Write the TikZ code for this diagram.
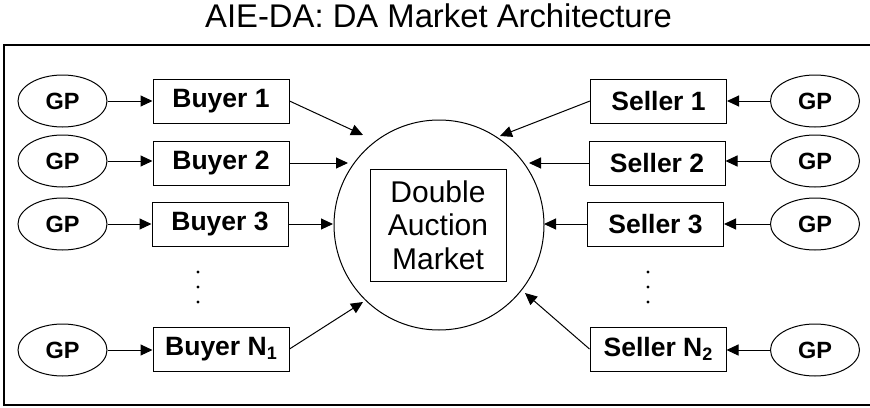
\documentclass[tikz,border=0pt]{standalone}
\usepackage{fontspec}
\setmainfont{Liberation Sans}
\usetikzlibrary{arrows.meta,shapes.geometric}
\begin{document}
\begin{tikzpicture}[x=1pt,y=-1pt,
  agent/.style={draw, line width=1pt, minimum width=136pt, minimum height=44pt,
    inner sep=0pt, font=\fontsize{26.5}{26.5}\bfseries\selectfont},
  gp/.style={draw, ellipse, line width=1pt, minimum width=89pt, minimum height=52pt,
    inner sep=0pt, font=\fontsize{23.5}{23.5}\bfseries\selectfont},
  feed/.style={line width=1pt, -{Triangle[length=12pt,width=11pt]}},
]
\useasboundingbox (0,0) rectangle (870,407);

% title and frame
\node[font=\fontsize{32.8}{32.8}\selectfont, anchor=base, inner sep=0pt] (title)
  at (438.5,27) {AIE-DA: DA Market Architecture};
\draw[line width=1.3pt] (4,45) rectangle (872,405);

% market
\node[draw, circle, line width=1pt, minimum size=210pt, inner sep=0pt] (market) at (439,225) {};
\node[draw, line width=1pt, minimum width=136pt, minimum height=112pt, inner sep=0pt,
  align=center, font=\fontsize{30}{33.5}\selectfont] (dam) at (438,225)
  {Double\\Auction\\Market};

% buyers
\node[agent] (b1) at (221,101) {Buyer 1};
\node[agent] (b2) at (221,163) {Buyer 2};
\node[agent] (b3) at (220,224) {Buyer 3};
\node[agent] (bn) at (221,349) {Buyer N\raisebox{-4pt}{\fontsize{18}{18}\selectfont 1}};

\node[gp] (gb1) at (62.5,101) {GP};
\node[gp] (gb2) at (62.5,161) {GP};
\node[gp] (gb3) at (62.5,224) {GP};
\node[gp] (gbn) at (62.5,350) {GP};

% sellers
\node[agent] (s1) at (658.5,101) {Seller 1};
\node[agent] (s2) at (657,163) {Seller 2};
\node[agent] (s3) at (655.5,224) {Seller 3};
\node[agent] (sn) at (658,349) {Seller N\raisebox{-4pt}{\fontsize{18}{18}\selectfont 2}};

\node[gp] (gs1) at (815,101) {GP};
\node[gp] (gs2) at (815,161) {GP};
\node[gp] (gs3) at (815,224) {GP};
\node[gp] (gsn) at (815,350) {GP};

% arrow tips near the market
\coordinate (b1tip) at (363,135);
\coordinate (b2tip) at (348,163);
\coordinate (b3tip) at (333,224);
\coordinate (bntip) at (363,302);
\coordinate (s1tip) at (500,136);
\coordinate (s2tip) at (529,163);
\coordinate (s3tip) at (544,224);
\coordinate (sntip) at (525,293);

% connectors
\foreach \g/\a in {gb1/b1, gb2/b2, gb3/b3, gbn/bn}
  \draw[feed] (\g.east) -- (\g.east -| \a.west);
\foreach \g/\a in {gs1/s1, gs2/s2, gs3/s3, gsn/sn}
  \draw[feed] (\g.west) -- (\g.west -| \a.east);
\draw[feed] (b1.east) -- (b1tip);
\draw[feed] (b2.east) -- (b2tip);
\draw[feed] (b3.east) -- (b3tip);
\draw[feed] (bn.east) -- (bntip);
\draw[feed] (s1.west) -- (s1tip);
\draw[feed] (s2.west) -- (s2tip);
\draw[feed] (s3.west) -- (s3tip);
\draw[feed] (sn.west) -- (sntip);

% omitted agents
\foreach \y in {272,287,302} {
  \fill (198,\y) circle (1.7pt);
  \fill (648,\y) circle (1.7pt);
}
\end{tikzpicture}
\end{document}
